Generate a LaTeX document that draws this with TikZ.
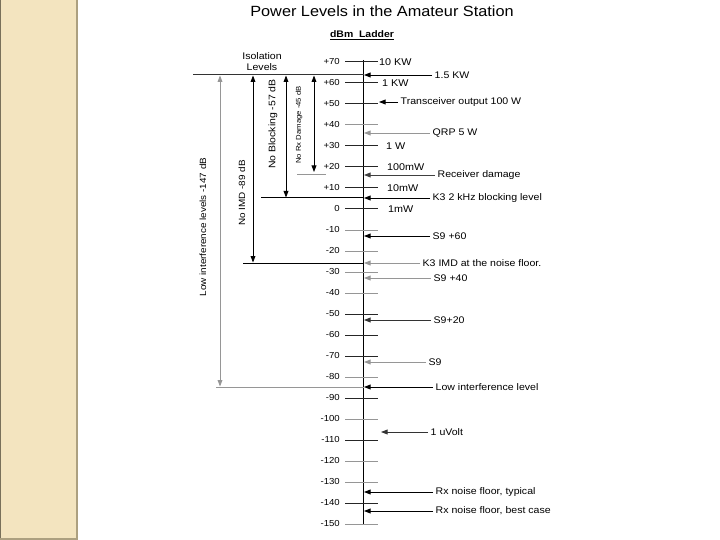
\documentclass[tikz,border=0pt]{standalone}
\usepackage{fontspec}
\setmainfont{Liberation Sans}[FakeStretch=1.1]
\usetikzlibrary{arrows.meta}
\definecolor{strip}{RGB}{243,228,191}
\definecolor{stripedge}{RGB}{172,160,128}
\definecolor{lgray}{RGB}{150,150,150}
\tikzset{
  tickb/.style={line width=1pt,black!85},
  tickg/.style={line width=1pt,lgray},
  num/.style={anchor=east,font=\fontsize{8.7}{9}\selectfont,inner sep=1pt},
  rlab/.style={anchor=west,font=\fontsize{9.6}{11}\selectfont,inner sep=2.5pt},
  tlab/.style={anchor=west,font=\fontsize{9.8}{10}\selectfont,inner sep=1pt},
  ptr/.style={-{Triangle[length=6.5pt,width=4.8pt]},line width=0.9pt},
  dbl/.style={{Triangle[length=6.5pt,width=4.8pt]}-{Triangle[length=6.5pt,width=4.8pt]},line width=0.9pt},
  vlab/.style={rotate=90,font=\fontsize{9}{10}\selectfont,inner sep=0pt},
}
\begin{document}
\begin{tikzpicture}[x=1pt,y=-1pt]
\useasboundingbox (0,0) rectangle (720,540);
% left strip
\fill[strip] (0,0) rectangle (78,540);
\draw[stripedge,line width=2.5pt] (77,0) -- (77,540);
\draw[stripedge!70!black,line width=1pt] (0.5,0) -- (0.5,540);
\draw[stripedge,line width=2pt] (0,539) -- (78,539);

% titles
\node[font=\fontsize{14.8}{16}\selectfont] (title) at (382,11) {Power Levels in the Amateur Station};
\node[font=\bfseries\fontsize{9.5}{11}\selectfont] (ladder) at (362,35) {\underline{dBm\ \ Ladder}};
\node[align=center,font=\fontsize{9.6}{11}\selectfont] (iso) at (262,62) {Isolation\\Levels};

% axis
\coordinate (axtop) at (363,60);
\coordinate (axbot) at (363,524);
\draw[line width=1pt] (axtop) -- (axbot);
\coordinate (ax) at (364,0);

% ticks and numbers
\foreach \i/\d/\t/\s in {0/70/+70/tickb,1/60/+60/tickb,2/50/+50/tickb,3/40/+40/tickg,4/30/+30/tickb,
  5/20/+20/tickb,6/10/+10/tickb,7/0/0/tickb,8/-10/-10/tickg,9/-20/-20/tickg,10/-30/-30/tickg,
  11/-40/-40/tickg,12/-50/-50/tickb,13/-60/-60/tickb,14/-70/-70/tickb,15/-80/-80/tickg,
  16/-90/-90/tickb,17/-100/-100/tickg,18/-110/-110/tickb,19/-120/-120/tickg,20/-130/-130/tickg,
  21/-140/-140/tickb,22/-150/-150/tickg}{
  \pgfmathsetmacro\yy{209-2.1*\d}
  \coordinate (ta\i) at (345,\yy);
  \coordinate (tb\i) at (378,\yy);
  \draw[\s] (ta\i) -- (tb\i);
  \node[num] (n\i) at (341,\yy) {\t};
}

% labels on ticks
\node[tlab] (l0) at (tb0) {10 KW};
\node[tlab,xshift=3pt] (l1) at (tb1) {1 KW};
\node[tlab,xshift=7pt] (l4) at (tb4) {1 W};
\node[tlab,xshift=8pt] (l5) at (tb5) {100mW};
\node[tlab,xshift=8pt] (l6) at (tb6) {10mW};
\node[tlab,xshift=9pt] (l7) at (tb7) {1mW};

% isolation reference line
\coordinate (topL) at (193,75);
\draw[line width=1pt,black!80] (topL) -- (topL -| ax);

% right side pointers
\node[rlab] (kw15) at (432,75) {1.5 KW};
\draw[ptr] (kw15.west) -- (kw15.west -| ax);

\node[rlab] (trx) at (398,102) {Transceiver output 100 W};
\coordinate (trxend) at (379,102);
\draw[ptr] (trx.west) -- (trxend);

\node[rlab] (qrp) at (430,133) {QRP 5 W};
\draw[ptr,lgray] (qrp.west) -- (qrp.west -| ax);

\node[rlab] (rxd) at (435,175) {Receiver damage};
\draw[ptr,black!75] (rxd.west) -- (rxd.west -| ax);

\node[rlab] (k3b) at (430,198) {K3 2 kHz blocking level};
\coordinate (k3bl) at (261,198);
\draw[line width=1pt] (k3bl) -- (k3bl -| ax);
\draw[ptr] (k3b.west) -- (k3b.west -| ax);

\node[rlab] (s960) at (430,236) {S9 +60};
\draw[ptr] (s960.west) -- (s960.west -| ax);

\node[rlab] (k3i) at (420,263) {K3 IMD at the noise floor.};
\coordinate (k3il) at (243,263);
\draw[line width=1pt] (k3il) -- (k3il -| ax);
\draw[ptr,lgray] (k3i.west) -- (k3i.west -| ax);

\node[rlab] (s940) at (431,278) {S9 +40};
\draw[ptr,lgray] (s940.west) -- (s940.west -| ax);

\node[rlab] (s920) at (431,320) {S9+20};
\draw[ptr,black!80] (s920.west) -- (s920.west -| ax);

\node[rlab] (s9) at (426,362) {S9};
\draw[ptr,lgray] (s9.west) -- (s9.west -| ax);

\node[rlab] (low) at (433,387) {Low interference level};
\coordinate (lowl) at (216,387);
\draw[line width=1pt,lgray] (lowl) -- (lowl -| ax);
\draw[ptr] (low.west) -- (low.west -| ax);

\node[rlab] (uv) at (428,432) {1 uVolt};
\coordinate (uvend) at (381,432);
\draw[ptr,black!80] (uv.west) -- (uvend);

\node[rlab] (rxt) at (433,492) {Rx noise floor, typical};
\draw[ptr] (rxt.west) -- (rxt.west -| ax);

\node[rlab] (rxb) at (433,511) {Rx noise floor, best case};
\draw[ptr] (rxb.west) -- (rxb.west -| ax);

% isolation double arrows
\coordinate (v1t) at (220,75.5);
\coordinate (v1b) at (220,386.5);
\draw[dbl,lgray] (v1t) -- (v1b);
\node[vlab] (v1l) at (203,227) {Low interference levels -147 dB};

\coordinate (v2t) at (253,75.5);
\coordinate (v2b) at (253,262.5);
\draw[dbl] (v2t) -- (v2b);
\node[vlab,font=\fontsize{9}{10}\selectfont] (v2l) at (242,193) {No IMD  -89 dB};

\coordinate (v3t) at (286,75.5);
\coordinate (v3b) at (286,197.5);
\draw[dbl] (v3t) -- (v3b);
\node[vlab,font=\fontsize{9.5}{10}\selectfont] (v3l) at (273,124) {No Blocking  -57 dB};

\coordinate (v4t) at (314,75.5);
\coordinate (v4b) at (314,172);
\draw[dbl] (v4t) -- (v4b);
\node[vlab,font=\fontsize{7}{8}\selectfont] (v4l) at (299,125) {No Rx Damage  -45 dB};
\coordinate (g1) at (297,175);
\coordinate (g2) at (326,175);
\draw[lgray,line width=1pt] (g1) -- (g2);
\end{tikzpicture}
\end{document}
